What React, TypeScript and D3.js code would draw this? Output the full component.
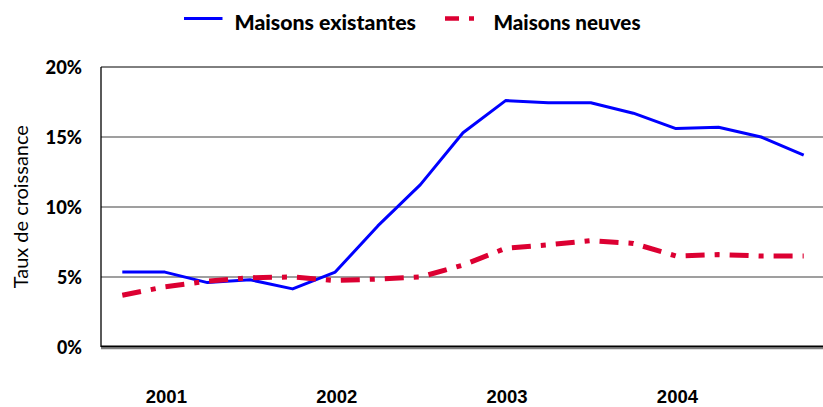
import React from "react";
import * as d3 from "d3";

const quarters = [
  "2000T4", "2001T1", "2001T2", "2001T3", "2001T4",
  "2002T1", "2002T2", "2002T3", "2002T4",
  "2003T1", "2003T2", "2003T3", "2003T4",
  "2004T1", "2004T2", "2004T3", "2004T4",
];
const existantes = [5.35, 5.35, 4.6, 4.8, 4.15, 5.35, 8.65, 11.6, 15.3, 17.6, 17.45, 17.45, 16.7, 15.6, 15.7, 15.0, 13.7];
const neuves = [3.7, 4.3, 4.7, 4.95, 5.0, 4.75, 4.85, 5.0, 5.85, 7.05, 7.3, 7.6, 7.4, 6.5, 6.6, 6.5, 6.5];
const yTicks = [0, 5, 10, 15, 20];
const yearLabels = ["2001", "2002", "2003", "2004"];
const seriesNames = ["Maisons existantes", "Maisons neuves"];

const W = 823;
const H = 407;
const BLUE = "#0000FF";
const RED = "#DC0032";
const DASH = "19,10,5,10";
const HUMANIST = "'Lato', 'Open Sans', 'DejaVu Sans', sans-serif";

export default function App() {
  const x = d3.scaleBand<string>().domain(quarters).range([101, 825]).padding(0);
  const cx = (q: string) => (x(q) as number) + x.bandwidth() / 2;
  const y = d3.scaleLinear().domain([0, 20]).range([347, 67]);

  const line = d3
    .line<number>()
    .x((_, i) => cx(quarters[i]))
    .y((d) => y(d));

  const left = 101;
  const right = W;

  return (
    <svg
      width={W}
      height={H}
      style={{ position: "fixed", left: 0, top: 0, background: "#fff" }}
    >
      <rect x={0} y={0} width={W} height={H} fill="#fff" />
      {/* gridlines */}
      {yTicks.filter((t) => t > 0 && t < 20).map((t) => (
        <line key={t} x1={left} x2={right} y1={y(t)} y2={y(t)} stroke="#7f7f7f" strokeWidth={1.6} />
      ))}
      {/* frame */}
      <line x1={left} x2={right} y1={y(20)} y2={y(20)} stroke="#000" strokeWidth={1} />
      <line x1={left} x2={left} y1={y(20)} y2={y(0)} stroke="#000" strokeWidth={1.3} />
      <line x1={left} x2={right} y1={y(0) + 1.5} y2={y(0) + 1.5} stroke="#808080" strokeWidth={1.5} />
      <line x1={left} x2={right} y1={y(0) - 0.5} y2={y(0) - 0.5} stroke="#000" strokeWidth={1.8} />

      {/* y tick labels */}
      {yTicks.map((t) => (
        <text
          key={t}
          x={82}
          y={y(t) + 6.5}
          textAnchor="end"
          fontFamily={HUMANIST}
          fontWeight={900}
          fontSize={18}
          textLength={t === 0 ? 25 : t === 5 ? 25 : 36.5}
          lengthAdjust="spacingAndGlyphs"
        >
          {t}%
        </text>
      ))}

      {/* y axis title */}
      <text
        transform={`translate(28,206.7) rotate(-90)`}
        textAnchor="middle"
        fontFamily={HUMANIST}
        fontSize={20}
        textLength={163}
        lengthAdjust="spacingAndGlyphs"
      >
        Taux de croissance
      </text>

      {/* x labels */}
      {quarters.map((q) =>
        q.endsWith("T1") ? (
          <text
            key={q}
            x={cx(q) + 1.5}
            y={403}
            textAnchor="middle"
            fontFamily="'Liberation Sans', Arial, sans-serif"
            fontWeight="bold"
            fontSize={18.5}
          >
            {yearLabels.find((yl) => q.startsWith(yl))}
          </text>
        ) : null
      )}

      {/* series */}
      <path d={line(existantes) || ""} fill="none" stroke={BLUE} strokeWidth={3} strokeLinejoin="round" />
      <path
        d={line(neuves) || ""}
        fill="none"
        stroke={RED}
        strokeWidth={5}
        strokeDasharray={DASH}
        strokeLinecap="butt"
      />

      {/* legend */}
      <line x1={184} x2={222.5} y1={18.5} y2={18.5} stroke={BLUE} strokeWidth={3} />
      <text
        x={234.5}
        y={30}
        fontFamily={HUMANIST}
        fontWeight={900}
        fontSize={20}
        textLength={181.5}
        lengthAdjust="spacingAndGlyphs"
      >
        {seriesNames[0]}
      </text>
      <line x1={445} x2={474} y1={18.5} y2={18.5} stroke={RED} strokeWidth={4.5} strokeDasharray="14,10,5,10" />
      <text
        x={493.5}
        y={30}
        fontFamily={HUMANIST}
        fontWeight={900}
        fontSize={20}
        textLength={147}
        lengthAdjust="spacingAndGlyphs"
      >
        {seriesNames[1]}
      </text>
    </svg>
  );
}
